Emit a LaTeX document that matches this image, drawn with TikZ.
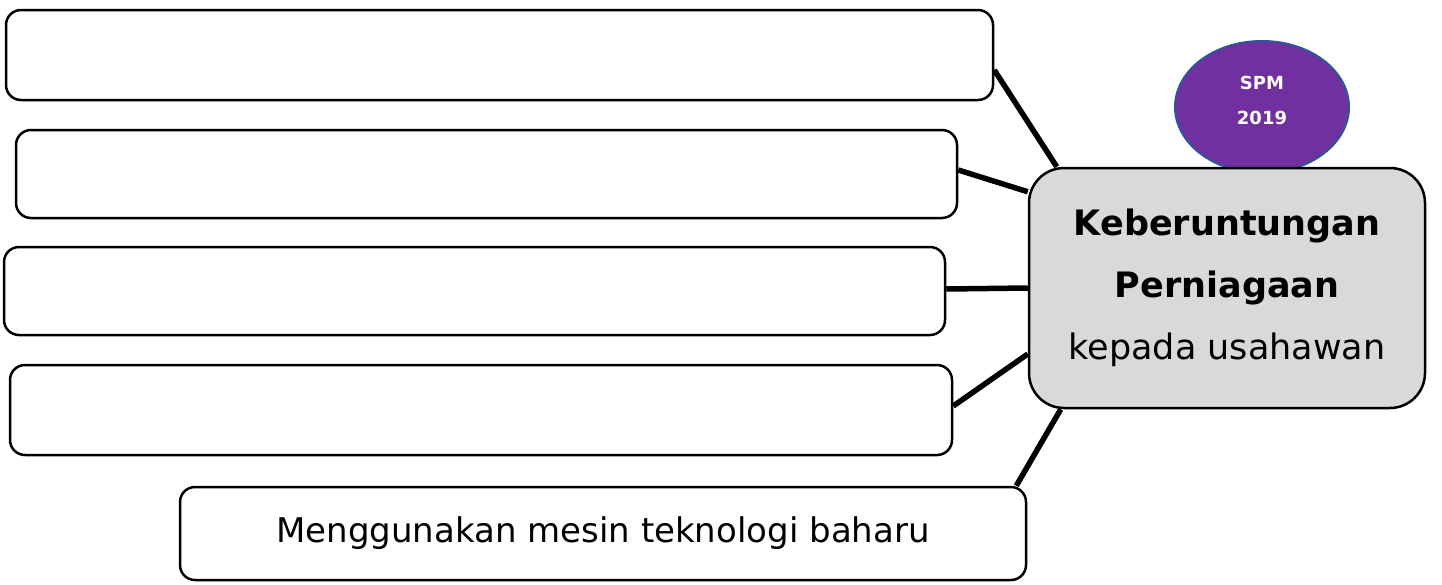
\documentclass[tikz,border=0pt]{standalone}
\usepackage{fontspec}
\setmainfont{DejaVu Sans}
\usetikzlibrary{shapes.geometric}
\definecolor{centrefill}{HTML}{D9D9D9}
\definecolor{ellfill}{HTML}{7030A0}
\definecolor{ellline}{HTML}{2F5597}
\begin{document}
\begin{tikzpicture}[x=1pt,y=-1pt,
  box/.style={draw=black,line width=2.5pt,rounded corners=15pt,fill=white,inner sep=0pt},
  conn/.style={draw=black,line width=5.5pt},
  txt/.style={font=\fontsize{34}{40}\selectfont}]
\useasboundingbox (0,0) rectangle (1442,584);
\node[ellipse,draw=ellline,line width=2pt,fill=ellfill,minimum width=174pt,minimum height=132pt,inner sep=0pt] (e) at (1262,107) {};
\node[text=white,font=\fontsize{18}{35}\selectfont\bfseries,align=center] (et) at (1262,100) {SPM\\2019};
\node[box,minimum width=987pt,minimum height=90pt] (b1) at (499.5,55) {};
\node[box,minimum width=941pt,minimum height=88pt] (b2) at (486.5,174) {};
\node[box,minimum width=941pt,minimum height=88pt] (b3) at (474.5,291) {};
\node[box,minimum width=942pt,minimum height=90pt] (b4) at (481,410) {};
\node[box,minimum width=846pt,minimum height=93pt,txt] (b5) at (603,533.5) {Menggunakan mesin teknologi baharu};
\node[box,rounded corners=35pt,fill=centrefill,minimum width=396pt,minimum height=240pt,align=center,font=\fontsize{35}{62}\selectfont] (c) at (1227,288) {\textbf{Keberuntungan}\\\textbf{Perniagaan}\\kepada usahawan};
\draw[conn] ([yshift=-15pt]b1.east) -- ([xshift=29pt]c.north west);
\draw[conn] ([yshift=4pt]b2.east) -- ([yshift=-25pt]c.north west);
\draw[conn] ([yshift=2pt]b3.east) -- (c.west);
\draw[conn] ([yshift=4pt]b4.east) -- ([yshift=-66pt]c.west);
\draw[conn] ([xshift=-11pt]b5.north east) -- ([xshift=33pt]c.south west);
\end{tikzpicture}
\end{document}
